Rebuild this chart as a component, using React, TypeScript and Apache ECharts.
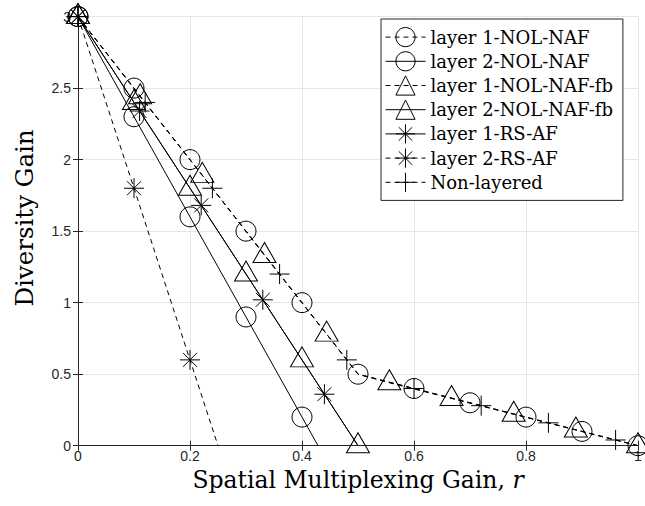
import React, { useEffect, useRef } from "react";
import * as echarts from "echarts";

// ---- data ----
const xTicks = [0, 0.2, 0.4, 0.6, 0.8, 1];
const yTicks = [0, 0.5, 1, 1.5, 2, 2.5, 3];

const layer1NolNaf = [
  [0, 3], [0.1, 2.5], [0.2, 2], [0.3, 1.5], [0.4, 1], [0.5, 0.5],
  [0.6, 0.4], [0.7, 0.3], [0.8, 0.2], [0.9, 0.1], [1, 0],
];
const layer2NolNaf = [[0, 3], [0.1, 2.3], [0.2, 1.6], [0.3, 0.9], [0.4, 0.2]];
const layer2NolNafEnd = [0.4286, 0];

const layer1NolNafFb = [
  [0, 3], [0.111, 2.44], [0.222, 1.89], [0.333, 1.33], [0.444, 0.78],
  [0.556, 0.44], [0.667, 0.33], [0.778, 0.22], [0.889, 0.11], [1, 0],
];
const layer1NolNafFbCorner = [0.5, 0.5];
const layer2NolNafFb = [[0, 3], [0.1, 2.4], [0.2, 1.8], [0.3, 1.2], [0.4, 0.6], [0.5, 0]];

const layer1RsAf = [[0, 3], [0.11, 2.34], [0.22, 1.68], [0.33, 1.02], [0.44, 0.36]];
const layer1RsAfEnd = [0.5, 0];
const layer2RsAf = [[0, 3], [0.1, 1.8], [0.2, 0.6]];
const layer2RsAfEnd = [0.25, 0];

const nonLayered = [
  [0, 3], [0.12, 2.4], [0.24, 1.8], [0.36, 1.2], [0.48, 0.6],
  [0.6, 0.4], [0.72, 0.28], [0.84, 0.16], [0.96, 0.04],
];
const nonLayeredCorner = [0.5, 0.5];
const nonLayeredEnd = [1, 0];

const names = [
  "layer 1-NOL-NAF",
  "layer 2-NOL-NAF",
  "layer 1-NOL-NAF-fb",
  "layer 2-NOL-NAF-fb",
  "layer 1-RS-AF",
  "layer 2-RS-AF",
  "Non-layered",
];

const STAR = "path://M10 0V20M0 10H20M3 3L17 17M3 17L17 3";
const PLUS = "path://M10 0V20M0 10H20";

function withHidden(points: number[][], extras: number[][]) {
  const all: any[] = points.map((p) => ({ value: p }));
  extras.forEach((e) => all.push({ value: e, symbol: "none" }));
  all.sort((a, b) => a.value[0] - b.value[0]);
  return all;
}

const AXIS = "#262626";
const SERIF = "'DejaVu Serif', 'Liberation Serif', serif";

export default function App() {
  const ref = useRef<HTMLDivElement>(null);
  useEffect(() => {
    if (!ref.current) return;
    const chart = echarts.init(ref.current, undefined, { renderer: "svg" });
    const mk = (name: string, data: any[], symbol: string, size: any, dashed: boolean, offset?: number[]) => ({
      name,
      type: "line",
      data,
      symbol,
      symbolSize: size,
      symbolOffset: offset || [0, 0],
      showAllSymbol: true,
      lineStyle: { color: "#000", width: 1, type: dashed ? [5, 4] : "solid" },
      itemStyle: { color: "rgba(0,0,0,0)", borderColor: "#000", borderWidth: 1 },
      emphasis: { disabled: true },
      z: 3,
    });
    const baseX = {
      type: "value", min: 0, max: 1, interval: 0.2,
      axisLine: { show: true, lineStyle: { color: AXIS, width: 1 } },
      axisTick: { show: true, inside: true, length: 5, lineStyle: { color: AXIS } },
    };
    const baseY = {
      type: "value", min: 0, max: 3, interval: 0.5,
      axisLine: { show: true, lineStyle: { color: AXIS, width: 1 } },
      axisTick: { show: true, inside: true, length: 5, lineStyle: { color: AXIS } },
    };
    chart.setOption({
      animation: false,
      backgroundColor: "#fff",
      grid: { left: 78, right: 7, top: 16.6, bottom: 60.3, containLabel: false },
      graphic: [
        {
          type: "text",
          x: 24,
          y: 218,
          rotation: Math.PI / 2,
          style: {
            text: "Diversity Gain",
            fontFamily: SERIF,
            fontSize: 24.5,
            fill: "#000",
            align: "center",
            verticalAlign: "middle",
          },
        },
      ],
      xAxis: [
        {
          ...baseX,
          position: "bottom",
          axisLabel: {
            color: AXIS, fontSize: 14, fontFamily: "'Liberation Sans', Arial, sans-serif", margin: 3,
            formatter: (v: number) => (xTicks.includes(Math.round(v * 10) / 10) ? String(Math.round(v * 10) / 10) : ""),
          },
          splitLine: { show: true, lineStyle: { color: "#e6e6e6", width: 1 } },
          name: "Spatial Multiplexing Gain, {i|r}",
          nameLocation: "middle",
          nameGap: 22,
          nameTextStyle: {
            fontFamily: SERIF, fontSize: 23.5, color: "#000", verticalAlign: "top",
            rich: { i: { fontFamily: SERIF, fontSize: 23.5, fontStyle: "italic", color: "#000" } },
          },
        },
        { ...baseX, position: "top", axisLabel: { show: false }, splitLine: { show: false } },
      ],
      yAxis: [
        {
          ...baseY,
          position: "left",
          axisLabel: {
            color: AXIS, fontSize: 14, fontFamily: "'Liberation Sans', Arial, sans-serif", margin: 7,
            formatter: (v: number) => (yTicks.includes(v) ? String(v) : ""),
          },
          splitLine: { show: true, lineStyle: { color: "#e6e6e6", width: 1 } },
        },
        { ...baseY, position: "right", axisLabel: { show: false }, splitLine: { show: false } },
      ],
      legend: {
        data: names,
        orient: "vertical",
        left: 381,
        top: 19,
        itemWidth: 40,
        itemHeight: 24,
        itemGap: 4,
        padding: [8, 10, 8, 4],
        backgroundColor: "#fff",
        borderColor: AXIS,
        borderWidth: 1,
        borderRadius: 0,
        selectedMode: false,
        lineStyle: { width: 1 },
        itemStyle: { borderWidth: 1 },
        textStyle: { fontFamily: SERIF, fontSize: 18, color: "#000" },
      },
      series: [
        mk(names[0], withHidden(layer1NolNaf, []), "circle", 20, true),
        mk(names[1], withHidden(layer2NolNaf, [layer2NolNafEnd]), "circle", 20, false),
        mk(names[2], withHidden(layer1NolNafFb, [layer1NolNafFbCorner]), "triangle", [23, 20], true, [0, -3]),
        mk(names[3], withHidden(layer2NolNafFb, []), "triangle", [23, 20], false, [0, -3]),
        mk(names[4], withHidden(layer1RsAf, [layer1RsAfEnd]), STAR, 20, false),
        mk(names[5], withHidden(layer2RsAf, [layer2RsAfEnd]), STAR, 20, true),
        mk(names[6], withHidden(nonLayered, [nonLayeredCorner, nonLayeredEnd]), PLUS, 20, true),
      ],
    });
    return () => chart.dispose();
  }, []);
  return <div ref={ref} style={{ width: 645, height: 506, position: "absolute", left: 0, top: 0 }} />;
}
